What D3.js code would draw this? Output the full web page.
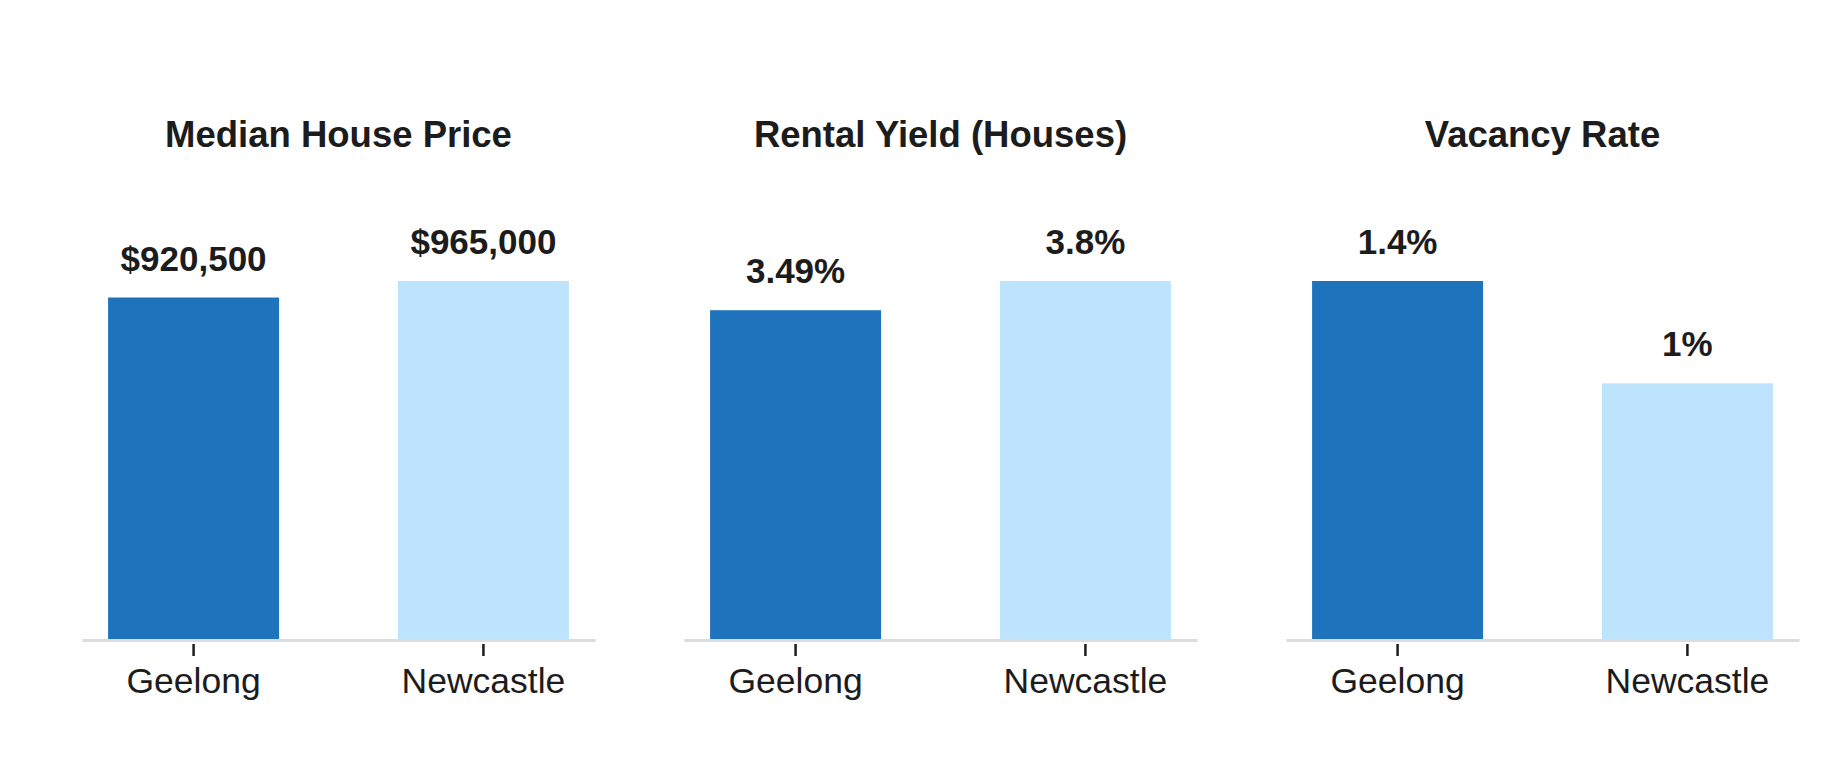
<!DOCTYPE html>
<html>
<head>
<meta charset="utf-8">
<script src="https://cdn.jsdelivr.net/npm/d3@7"></script>
<style>
  body { margin: 0; background: #fff; }
  text { font-family: "Liberation Sans", Arial, sans-serif; fill: #1c1c1c; }
</style>
</head>
<body>
<script>
const cities = ["Geelong", "Newcastle"];
const titles = ["Median House Price", "Rental Yield (Houses)", "Vacancy Rate"];
const housePrice = [920500, 965000];
const rentalYield = [3.49, 3.8];
const vacancyRate = [1.4, 1];
const colors = ["#1f73bd", "#bee3fc"];

const fmtPrice = v => "$" + d3.format(",")(v);
const fmtPct = v => v + "%";

const panels = [
  {title: titles[0], values: housePrice, fmt: fmtPrice},
  {title: titles[1], values: rentalYield, fmt: fmtPct},
  {title: titles[2], values: vacancyRate, fmt: fmtPct}
];

const W = 1843, H = 780;
const panelW = 513, panelStep = 602, left = 82;
const baseY = 639, topY = 281;

const svg = d3.select("body").append("svg")
  .attr("width", W)
  .attr("height", H);

panels.forEach((p, i) => {
  const g = svg.append("g")
    .attr("transform", `translate(${left + i * panelStep},0)`);

  const x = d3.scaleBand()
    .domain(cities)
    .range([0, panelW])
    .paddingInner(0.41)
    .paddingOuter(0.09);

  const y = d3.scaleLinear()
    .domain([0, d3.max(p.values)])
    .range([baseY, topY]);

  g.append("text")
    .attr("x", panelW / 2)
    .attr("y", 147)
    .attr("text-anchor", "middle")
    .style("font-size", "36.5px")
    .style("font-weight", "bold")
    .text(p.title);

  g.selectAll("rect.bar")
    .data(p.values)
    .enter()
    .append("rect")
      .attr("class", "bar")
      .attr("x", (v, j) => x(cities[j]))
      .attr("y", v => y(v))
      .attr("width", x.bandwidth())
      .attr("height", v => baseY - y(v))
      .attr("fill", (v, j) => colors[j]);

  g.selectAll("text.val")
    .data(p.values)
    .enter()
    .append("text")
      .attr("class", "val")
      .attr("x", (v, j) => x(cities[j]) + x.bandwidth() / 2)
      .attr("y", v => y(v) - 27)
      .attr("text-anchor", "middle")
      .style("font-size", "35px")
      .style("font-weight", "bold")
      .text(p.fmt);

  const axis = g.append("g")
    .attr("transform", `translate(0,${baseY + 1})`)
    .call(d3.axisBottom(x).tickSize(16).tickSizeOuter(0));
  axis.select(".domain")
    .attr("stroke", "#dcdcdc")
    .attr("stroke-width", 3);
  axis.selectAll(".tick line")
    .attr("y1", 4)
    .attr("stroke", "#1c1c1c")
    .attr("stroke-width", 2.5);
  axis.selectAll(".tick text")
    .attr("y", 53)
    .attr("dy", 0)
    .style("font-size", "35.5px")
    .style("font-family", "'Liberation Sans', Arial, sans-serif")
    .attr("fill", "#1c1c1c");
});
</script>
</body>
</html>
